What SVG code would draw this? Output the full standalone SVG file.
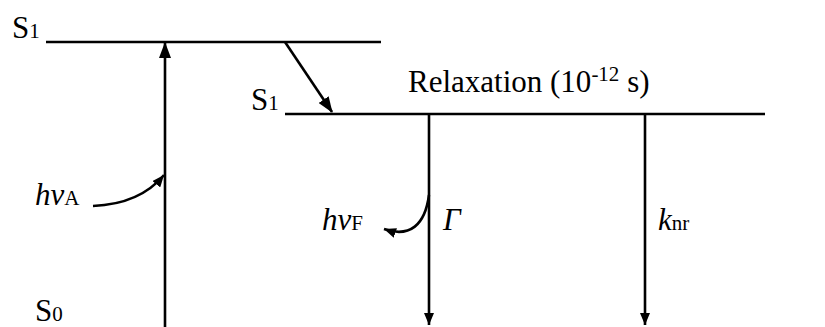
<svg xmlns="http://www.w3.org/2000/svg" width="825" height="327" viewBox="0 0 825 327">
<style>
text{font-family:"Liberation Serif","Times New Roman",serif;font-size:31px;fill:#000}
.it{font-style:italic}
.sub{font-size:21px}
.ln{stroke:#000;stroke-width:2.6;fill:none}
</style>
<defs>
<marker id="ah" markerWidth="16" markerHeight="12" refX="15" refY="6" orient="auto" markerUnits="userSpaceOnUse">
<path d="M0,0 L16,6 L0,12 Z" fill="#000"/>
</marker>
<marker id="ahs" markerWidth="12" markerHeight="10" refX="12" refY="5" orient="auto" markerUnits="userSpaceOnUse">
<path d="M0,0 L12,5 L0,10 Z" fill="#000"/>
</marker>
</defs>
<g id="levels">
<g id="S1-upper"><line class="ln" x1="46" y1="42" x2="381" y2="42"/><text x="12" y="38">S<tspan class="sub" dy="0">1</tspan></text></g>
<g id="S1-lower"><line class="ln" x1="285" y1="114" x2="765" y2="114"/><text x="251" y="110">S<tspan class="sub" dy="0">1</tspan></text></g>
<g id="S0"><text x="35" y="321">S<tspan class="sub" dy="0">0</tspan></text></g>
<g id="relax-label"><text x="408" y="92">Relaxation (10<tspan class="sub" dy="-11">-12</tspan><tspan dy="11"> s)</tspan></text></g>
</g>
<g id="connectors">
<line class="ln" x1="165" y1="327" x2="165" y2="43" marker-end="url(#ah)"/>
<line class="ln" x1="285" y1="42" x2="332" y2="112" marker-end="url(#ah)"/>
<line class="ln" x1="429" y1="114" x2="429" y2="325" marker-end="url(#ahs)"/>
<line class="ln" x1="645" y1="114" x2="645" y2="325" marker-end="url(#ahs)"/>
<path class="ln" d="M93,206 Q140,204 164,175" marker-end="url(#ahs)"/>
<path class="ln" d="M429,195 C425,225 410,238 384,229" marker-end="url(#ahs)"/>
</g>
<g id="labels">
<text class="it" x="35" y="205">hν<tspan class="sub" font-style="normal" dy="0">A</tspan></text>
<text class="it" x="322" y="230">hν<tspan class="sub" font-style="normal" dy="0">F</tspan></text>
<text class="it" x="443" y="230">Γ</text>
<text class="it" x="658" y="230">k<tspan class="sub" font-style="normal" dy="0">nr</tspan></text>
</g>
</svg>
